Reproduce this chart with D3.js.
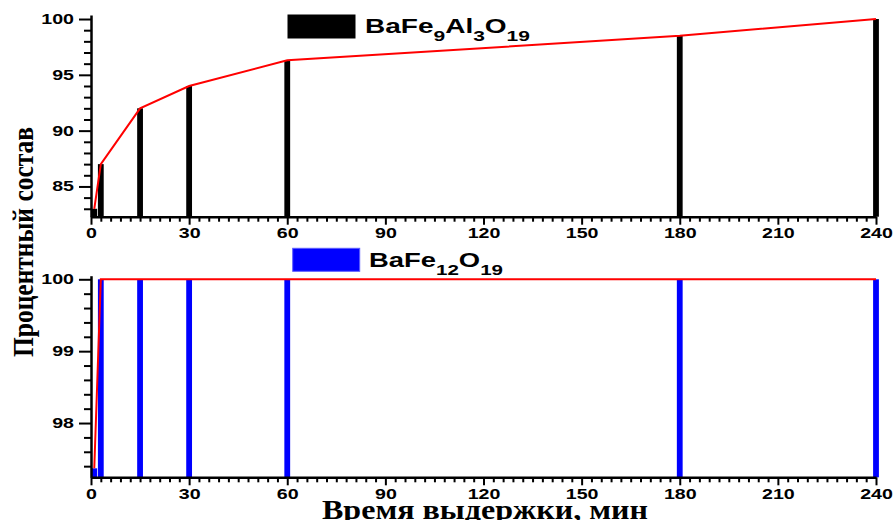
<!DOCTYPE html>
<html>
<head>
<meta charset="utf-8">
<script src="https://cdn.jsdelivr.net/npm/d3@7"></script>
<style>
  body { margin: 0; background: #fff; }
  svg { display: block; }
  .tick text { font-family: "Liberation Sans", Arial, sans-serif; font-weight: bold; font-size: 14px; fill: #000; }
  .title { font-family: "Liberation Serif", "Times New Roman", serif; font-weight: bold; fill: #000; }
  .legend { font-family: "Liberation Sans", Arial, sans-serif; font-weight: bold; font-size: 20px; fill: #000; }
</style>
</head>
<body>
<div id="chart"></div>
<script>
// hold times (min) and phase content (%)
const times = [1, 3, 15, 30, 60, 180, 240];
const alSubstituted = [83, 87, 92, 94, 96.3, 98.5, 100];
const pureHexaferrite = [97.37, 100, 100, 100, 100, 100, 100];

const xTicks = [0, 30, 60, 90, 120, 150, 180, 210, 240];
const topYTicks = [85, 90, 95, 100];
const bottomYTicks = [98, 99, 100];

// [text, isSubscript]
const topLegend = [["BaFe", false], ["9", true], ["Al", false], ["3", true], ["O", false], ["19", true]];
const bottomLegend = [["BaFe", false], ["12", true], ["O", false], ["19", true]];

const yTitle = "Процентный состав";
const xTitle = "Время выдержки, мин";

const width = 895, height = 520;
const stretch = 1.4;

const svg = d3.select("#chart").append("svg")
    .attr("width", width)
    .attr("height", height);

const x = d3.scaleLinear().domain([0, 240]).range([91, 876]);
const xMinor = d3.range(0, 241, 3).filter(d => d % 30 !== 0);

function stretchText(sel) {
    sel.each(function () {
        const w = this.getComputedTextLength();
        d3.select(this).attr("textLength", w * stretch).attr("lengthAdjust", "spacingAndGlyphs");
    });
}

function drawPanel(cfg) {
    const y = d3.scaleLinear().domain(cfg.yDomain).range(cfg.yRange);
    const base = cfg.yRange[0];
    const g = svg.append("g");

    // bars
    g.selectAll(".bar")
        .data(times.map((t, i) => ({ t, v: cfg.values[i] })))
        .enter().append("rect")
        .attr("x", d => x(d.t) - 2.9)
        .attr("width", 5.8)
        .attr("y", d => y(d.v))
        .attr("height", d => base - y(d.v))
        .attr("fill", cfg.color);

    // x axis
    const xAxis = g.append("g").attr("transform", `translate(0,${base})`)
        .call(d3.axisBottom(x).tickValues(xTicks).tickSize(8).tickSizeOuter(0).tickPadding(cfg.xPad));
    g.append("g").attr("transform", `translate(0,${base})`)
        .call(d3.axisBottom(x).tickValues(xMinor).tickSize(5).tickFormat("").tickSizeOuter(0))
        .select(".domain").remove();

    // y axis
    const yAxis = g.append("g").attr("transform", `translate(${x(0)},0)`)
        .call(d3.axisLeft(y).tickValues(cfg.yTicks).tickFormat(d3.format("d"))
            .tickSize(12).tickSizeOuter(0).tickPadding(5));
    g.append("g").attr("transform", `translate(${x(0)},0)`)
        .call(d3.axisLeft(y).tickValues(cfg.yMinor).tickSize(7).tickFormat("").tickSizeOuter(0))
        .select(".domain").remove();

    g.selectAll(".domain").attr("stroke", "#000").attr("stroke-width", 2.5);
    g.selectAll(".tick line").attr("stroke", "#000").attr("stroke-width", 2);
    xAxis.selectAll(".tick text").call(stretchText);
    yAxis.selectAll(".tick text").call(stretchText);

    // red line over bar tops
    const line = d3.line().x((d, i) => x(times[i])).y(d => y(d));
    g.append("path")
        .datum(cfg.values)
        .attr("fill", "none")
        .attr("stroke", "#ff0000")
        .attr("stroke-width", 2)
        .attr("d", line);

    // legend
    g.append("rect")
        .attr("x", cfg.legend.x).attr("y", cfg.legend.y)
        .attr("width", 67).attr("height", 23)
        .attr("fill", cfg.color)
        .attr("stroke", cfg.legendStroke).attr("stroke-width", 1);

    const txt = g.append("text")
        .attr("class", "legend")
        .attr("x", cfg.legend.tx)
        .attr("y", cfg.legend.ty);
    let sub = false;
    cfg.legend.parts.forEach(([s, isSub]) => {
        const span = txt.append("tspan").text(s).attr("font-size", isSub ? 15 : 20);
        if (isSub && !sub) span.attr("dy", 8);
        if (!isSub && sub) span.attr("dy", -8);
        sub = isSub;
    });
    txt.attr("textLength", cfg.legend.len).attr("lengthAdjust", "spacingAndGlyphs");
}

drawPanel({
    values: alSubstituted,
    color: "#000000",
    legendStroke: "#000000",
    yDomain: [82.29, 100.36],
    yRange: [216.7, 15],
    yTicks: topYTicks,
    yMinor: d3.range(83, 101).filter(d => d % 5 !== 0),
    xPad: 3,
    legend: { x: 288, y: 15, tx: 365, ty: 33.3, len: 165, parts: topLegend }
});

drawPanel({
    values: pureHexaferrite,
    color: "#0000ff",
    legendStroke: "#5c5cff",
    yDomain: [97.245, 100.05],
    yRange: [477.3, 275.7],
    yTicks: bottomYTicks,
    yMinor: [97.4, 97.6, 97.8, 98.2, 98.4, 98.6, 98.8, 99.2, 99.4, 99.6, 99.8],
    xPad: 4,
    legend: { x: 292.7, y: 248.3, tx: 369, ty: 266.7, len: 134, parts: bottomLegend }
});

// axis titles
svg.append("text")
    .attr("class", "title")
    .attr("transform", "translate(33,242) rotate(-90)")
    .attr("text-anchor", "middle")
    .attr("font-size", 30)
    .attr("textLength", 230)
    .attr("lengthAdjust", "spacingAndGlyphs")
    .text(yTitle);

svg.append("text")
    .attr("class", "title")
    .attr("x", 485)
    .attr("y", 519)
    .attr("text-anchor", "middle")
    .attr("font-size", 27)
    .attr("textLength", 326)
    .attr("lengthAdjust", "spacingAndGlyphs")
    .text(xTitle);
</script>
</body>
</html>
